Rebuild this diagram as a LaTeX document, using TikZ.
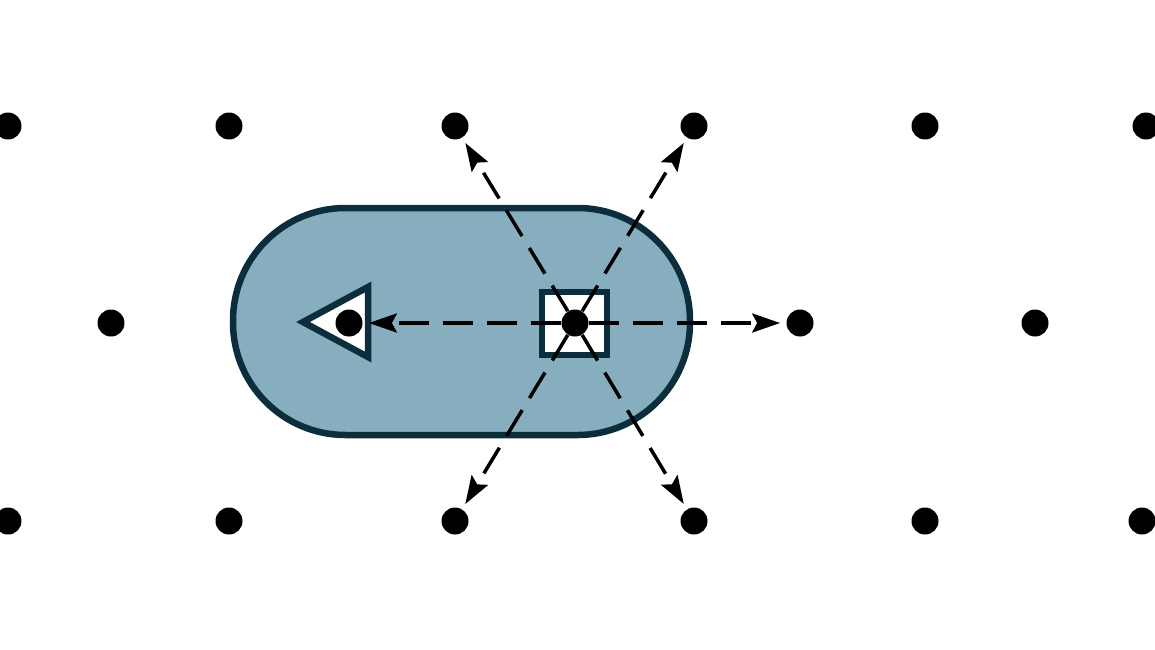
\documentclass[tikz,border=0pt]{standalone}
\usetikzlibrary{arrows.meta}
\definecolor{slate}{HTML}{0B2D3C}
\definecolor{pill}{HTML}{87AEBF}
\tikzset{
  dot/.style={circle,fill=black,inner sep=0pt,minimum size=0.54cm},
  hop/.style={line width=0.07cm,dash pattern=on 0.6cm off 0.28cm,shorten >=0.12cm,
    -{Stealth[length=0.56cm,width=0.38cm,inset=0.1cm]}},
  wall/.style={line width=0.13cm,draw=slate}
}
\begin{document}
\begin{tikzpicture}[x={0.02cm},y={-0.02cm}]
\useasboundingbox(0,0)rectangle(1155,649);
\clip(0,0)rectangle(1155,649);
\draw[wall,fill=pill,rounded corners=2.25cm](233,208)rectangle(690,435);
\draw[wall,fill=white,line join=miter](303,322)--(368,287)--(368,357)--cycle;
\draw[wall,fill=white](542,292)rectangle(607,355);
% lattice
\foreach \x/\n in {8/1,229/2,455/3,694/4,925/5,1146/6}{\node[dot](t\n)at(\x,126){};}
\foreach \x/\n in {111/1,349/2,575/3,800/4,1035/5}{\node[dot](m\n)at(\x,323){};}
\foreach \x/\n in {8/1,229/2,455/3,694/4,925/5,1142/6}{\node[dot](b\n)at(\x,521){};}
% hops from the centre site
\foreach \n in {t3,t4,m4,b4,b3,m2}{\draw[hop](m3)--(\n);}
\end{tikzpicture}
\end{document}
